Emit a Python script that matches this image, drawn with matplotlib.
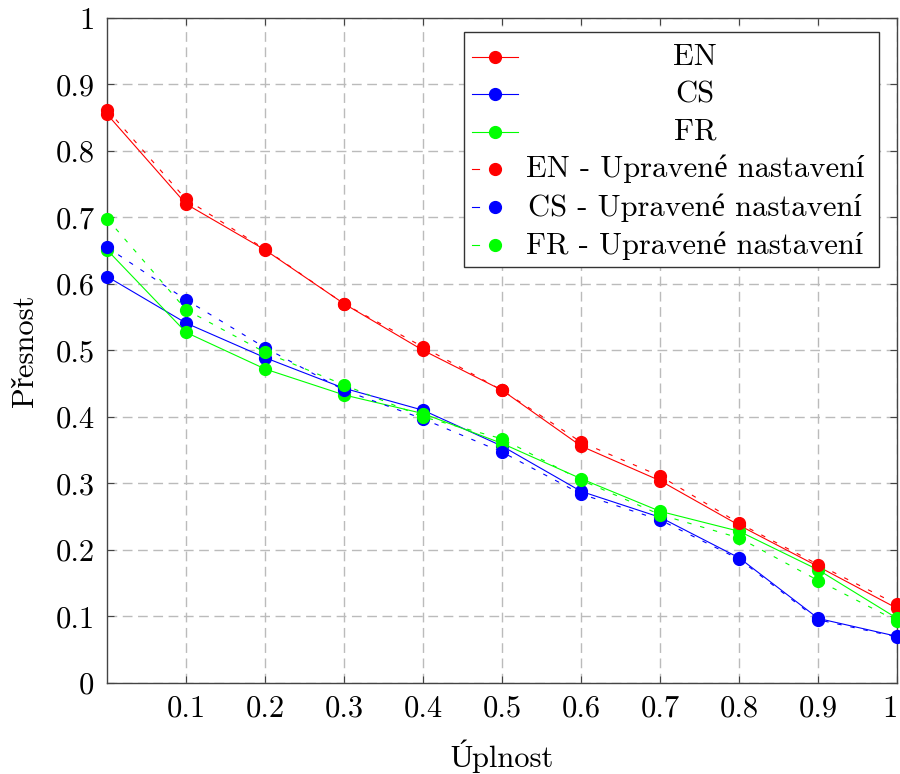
import numpy as np
import matplotlib.pyplot as plt
from matplotlib.patches import Rectangle

plt.rcParams['font.family'] = ['cmr10', 'Liberation Serif']
plt.rcParams['axes.formatter.use_mathtext'] = True
plt.rcParams['mathtext.fontset'] = 'cm'

# recall levels
x = [0.0, 0.1, 0.2, 0.3, 0.4, 0.5, 0.6, 0.7, 0.8, 0.9, 1.0]

en = [0.855, 0.720, 0.651, 0.570, 0.500, 0.440, 0.356, 0.304, 0.237, 0.175, 0.112]
cs = [0.611, 0.541, 0.489, 0.443, 0.410, 0.356, 0.288, 0.249, 0.188, 0.097, 0.070]
fr = [0.651, 0.527, 0.472, 0.433, 0.405, 0.360, 0.307, 0.258, 0.228, 0.170, 0.097]
en_up = [0.862, 0.727, 0.652, 0.570, 0.505, 0.440, 0.362, 0.311, 0.240, 0.178, 0.118]
cs_up = [0.655, 0.576, 0.504, 0.440, 0.397, 0.347, 0.284, 0.245, 0.186, 0.095, 0.069]
fr_up = [0.698, 0.561, 0.497, 0.448, 0.400, 0.367, 0.305, 0.253, 0.218, 0.154, 0.093]

labels = ['EN', 'CS', 'FR', 'EN - Upravené nastavení', 'CS - Upravené nastavení',
          'FR - Upravené nastavení']
colors = ['#ff0000', '#0000ff', '#00ff00']

xticks = [0.1, 0.2, 0.3, 0.4, 0.5, 0.6, 0.7, 0.8, 0.9, 1.0]
xticklabels = ['0.1', '0.2', '0.3', '0.4', '0.5', '0.6', '0.7', '0.8', '0.9', '1']
yticks = [0, 0.1, 0.2, 0.3, 0.4, 0.5, 0.6, 0.7, 0.8, 0.9, 1.0]
yticklabels = ['0', '0.1', '0.2', '0.3', '0.4', '0.5', '0.6', '0.7', '0.8', '0.9', '1']

fig = plt.figure(figsize=(9, 7.74), dpi=100)
ax = fig.add_axes([0.119, 0.1176, 0.878, 0.8594])

fs = 22
x = np.array(x)
for ys, c in zip([en, cs, fr], colors):
    ax.plot(x, ys, color=c, lw=0.8, marker='o', ms=8.5, zorder=3, clip_on=False)
for ys, c in zip([en_up, cs_up, fr_up], colors):
    ax.plot(x, ys, color=c, lw=0.8, ls=(0, (4, 8)), marker='o', ms=8.5, zorder=4,
            clip_on=False)

ax.set_xlim(0, 1)
ax.set_ylim(0, 1)
ax.set_xticks(xticks)
ax.set_xticklabels(xticklabels, fontsize=fs)
ax.get_xticklabels()[-1].set_ha('right')
ax.set_yticks(yticks)
ax.set_yticklabels(yticklabels, fontsize=fs)
ax.tick_params(direction='in', length=5, width=0.8, color='#444444', top=True, right=True,
               pad=9)
ax.grid(True, color='#bbbbbb', ls=(0, (7, 4)), lw=1.0)
ax.set_axisbelow(True)
for s in ax.spines.values():
    s.set_color('#444444')
    s.set_linewidth(1.0)

ax.set_xlabel('Úplnost', fontsize=fs, labelpad=12)
ax.set_ylabel('Přesnost', fontsize=fs, labelpad=12)

# legend drawn by hand so that the text is centred like pgfplots
bx0, bx1, by0, by1 = 0.452, 0.977, 0.625, 0.978
ax.add_patch(Rectangle((bx0, by0), bx1 - bx0, by1 - by0, transform=ax.transAxes,
                       facecolor='white', edgecolor='#333333', lw=1.0, zorder=10))
row_y = [0.941, 0.885, 0.829, 0.773, 0.715, 0.658]
hx0, hx1, hm, hd = 0.462, 0.520, 0.491, 0.471
for i, lab in enumerate(labels):
    c = colors[i % 3]
    if i < 3:
        ax.plot([hx0, hx1], [row_y[i]] * 2, color=c, lw=0.8, transform=ax.transAxes,
                zorder=11, clip_on=False)
    else:
        ax.plot([hx0, hd], [row_y[i]] * 2, color=c, lw=0.8, transform=ax.transAxes,
                zorder=11, clip_on=False)
    ax.plot([hm], [row_y[i]], 'o', color=c, ms=8.5, transform=ax.transAxes, zorder=12,
            clip_on=False)
    ax.text(0.744, row_y[i], lab, transform=ax.transAxes, ha='center', va='center',
            fontsize=fs, zorder=12)

fig.savefig('out.png', dpi=100)
